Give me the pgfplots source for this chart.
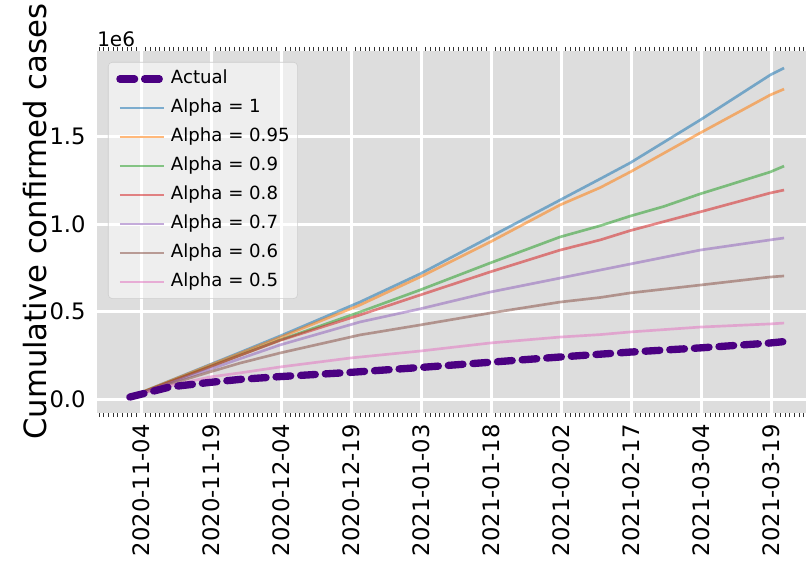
\documentclass[border=0pt]{standalone}
\usepackage{fontspec}
\setmainfont{DejaVu Sans}
\usepackage{pgfplots}
\pgfplotsset{compat=1.18}
\definecolor{bgc}{RGB}{221,221,221}
\definecolor{tabblue}{RGB}{31,119,180}
\definecolor{taborange}{RGB}{255,127,14}
\definecolor{tabgreen}{RGB}{44,160,44}
\definecolor{tabred}{RGB}{214,39,40}
\definecolor{tabpurple}{RGB}{148,103,189}
\definecolor{tabbrown}{RGB}{140,86,75}
\definecolor{tabpink}{RGB}{227,119,194}
\definecolor{indigo}{RGB}{75,0,130}
\begin{document}
\begin{tikzpicture}
\path[use as bounding box] (-72.75pt,-112.5pt) rectangle (531.75pt,309.75pt);
\begin{axis}[
  name=ax,
  at={(0,0)}, anchor=south west,
  width=531.75pt, height=271.5pt, scale only axis,
  xmin=-9.43, xmax=142.5,
  ymin=-0.08, ymax=1.9886,
  axis line style={draw=none},
  axis background/.style={fill=bgc},
  grid=major,
  major grid style={white, line width=2.25pt},
  xtick={0,15,30,45,60,75,90,105,120,135},
  xticklabels={2020-11-04,2020-11-19,2020-12-04,2020-12-19,2021-01-03,2021-01-18,2021-02-02,2021-02-17,2021-03-04,2021-03-19},
  minor xtick={-9,-8,...,-1,1,2,...,14,16,17,...,29,31,32,...,44,46,47,...,59,61,62,...,74,76,77,...,89,91,92,...,104,106,107,...,119,121,122,...,134,136,137,...,142},
  ytick={0,0.5,1,1.5},
  yticklabels={0.0,0.5,1.0,1.5},
  major tick length=0pt,
  minor tick length=3pt,
  tick align=outside,
  minor tick style={black!80, line width=0.6pt},
  x tick label style={rotate=90, anchor=east, font=\fontsize{17}{20}\selectfont},
  y tick label style={font=\fontsize{17}{20}\selectfont},
  xticklabel shift=5pt,
  yticklabel shift=5pt,
  ylabel={Cumulative confirmed cases},
  ylabel style={at={(axis description cs:-0.0875,0.528)}, anchor=center, font=\fontsize{23}{27}\selectfont},
  legend cell align=left,
  legend image code/.code={\draw[#1] (0pt,0pt) -- (33pt,0pt);},
  legend style={at={(axis description cs:0,1)}, anchor=north west, xshift=8.25pt, yshift=-8.25pt,
    fill=white, fill opacity=0.5, text opacity=1, draw={rgb,255:red,205;green,205;blue,205}, draw opacity=1,
    rounded corners=3pt, inner sep=6pt,
    font=\fontsize{13.6}{16}\selectfont,
    nodes={inner sep=0pt, text height=10pt, text depth=3pt},
    row sep=8.75pt, column sep=0pt},
  legend columns=1,
]
\addlegendimage{indigo, line width=5.5pt, line cap=round, dash pattern=on 11pt off 7.5pt}
\addlegendentry{\hspace{2.5pt}Actual}
\addlegendimage{tabblue, opacity=0.55, line width=2pt}
\addlegendentry{\hspace{2.5pt}Alpha = 1}
\addlegendimage{taborange, opacity=0.55, line width=2pt}
\addlegendentry{\hspace{2.5pt}Alpha = 0.95}
\addlegendimage{tabgreen, opacity=0.55, line width=2pt}
\addlegendentry{\hspace{2.5pt}Alpha = 0.9}
\addlegendimage{tabred, opacity=0.55, line width=2pt}
\addlegendentry{\hspace{2.5pt}Alpha = 0.8}
\addlegendimage{tabpurple, opacity=0.55, line width=2pt}
\addlegendentry{\hspace{2.5pt}Alpha = 0.7}
\addlegendimage{tabbrown, opacity=0.55, line width=2pt}
\addlegendentry{\hspace{2.5pt}Alpha = 0.6}
\addlegendimage{tabpink, opacity=0.55, line width=2pt}
\addlegendentry{\hspace{2.5pt}Alpha = 0.5}
% Alpha = 1
\addplot[tabblue, opacity=0.55, line width=2pt, forget plot] coordinates {
(-2.4,0.011) (6.2,0.104) (14.8,0.197) (21.2,0.266) (29.8,0.36) (46.9,0.554) (59.8,0.715) (74.8,0.926) (89.8,1.137) (98.4,1.258) (104.8,1.349) (119.8,1.594) (134.8,1.851) (137.8,1.891)};
% Alpha = 0.95
\addplot[taborange, opacity=0.55, line width=2pt, forget plot] coordinates {
(-2.4,0.011) (6.2,0.103) (14.8,0.194) (21.2,0.261) (29.8,0.352) (46.9,0.537) (59.8,0.697) (74.8,0.897) (89.8,1.109) (98.4,1.208) (104.8,1.297) (119.8,1.52) (134.8,1.737) (137.8,1.771)};
% Alpha = 0.9
\addplot[tabgreen, opacity=0.55, line width=2pt, forget plot] coordinates {
(-2.4,0.011) (6.2,0.098) (14.8,0.185) (21.2,0.25) (29.8,0.337) (46.9,0.497) (59.8,0.623) (74.8,0.777) (89.8,0.926) (98.4,0.99) (104.8,1.045) (112,1.10) (119.8,1.172) (125,1.215) (134.8,1.297) (137.8,1.331)};
% Alpha = 0.8
\addplot[tabred, opacity=0.55, line width=2pt, forget plot] coordinates {
(-2.4,0.011) (6.2,0.098) (14.8,0.184) (21.2,0.249) (29.8,0.335) (46.9,0.48) (59.8,0.594) (74.8,0.726) (89.8,0.851) (98.4,0.909) (104.8,0.962) (119.8,1.069) (134.8,1.177) (137.8,1.194)};
% Alpha = 0.7
\addplot[tabpurple, opacity=0.55, line width=2pt, forget plot] coordinates {
(-2.4,0.011) (6.2,0.091) (14.8,0.17) (21.2,0.23) (29.8,0.309) (46.9,0.44) (59.8,0.515) (74.8,0.611) (89.8,0.691) (98.4,0.737) (104.8,0.771) (119.8,0.851) (134.8,0.909) (137.8,0.92)};
% Alpha = 0.6
\addplot[tabbrown, opacity=0.55, line width=2pt, forget plot] coordinates {
(-2.4,0.011) (6.2,0.085) (14.8,0.155) (21.2,0.205) (29.8,0.263) (46.9,0.366) (59.8,0.423) (74.8,0.491) (89.8,0.554) (98.4,0.58) (104.8,0.606) (119.8,0.651) (134.8,0.697) (137.8,0.703)};
% Alpha = 0.5
\addplot[tabpink, opacity=0.55, line width=2pt, forget plot] coordinates {
(-2.4,0.011) (6.2,0.075) (14.8,0.126) (21.2,0.149) (29.8,0.183) (44.8,0.234) (59.8,0.274) (74.8,0.32) (89.8,0.354) (98.4,0.368) (104.8,0.383) (119.8,0.411) (134.8,0.429) (137.8,0.434)};
% Actual
\addplot[indigo, line width=5.5pt, line cap=round, dash pattern=on 11pt off 7.5pt, forget plot] coordinates {
(-2.4,0.011) (1.9,0.04) (6.2,0.069) (14.8,0.095) (21.2,0.112) (29.8,0.128) (44.8,0.152) (59.8,0.18) (74.8,0.21) (89.8,0.24) (104.8,0.268) (119.8,0.292) (134.8,0.32) (137.8,0.328)};
\end{axis}
\node[anchor=south west, inner sep=0pt, font=\fontsize{15}{18}\selectfont] at ([yshift=3pt]ax.north west) {1e6};
\end{tikzpicture}
\end{document}
